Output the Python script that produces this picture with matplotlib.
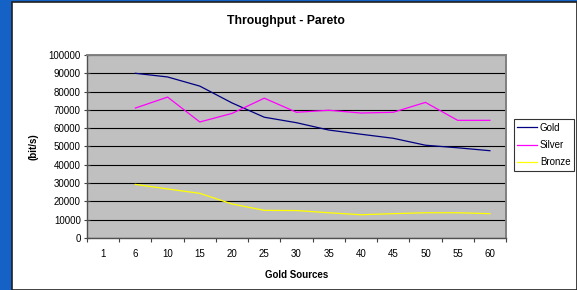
import numpy as np
import matplotlib
matplotlib.use('Agg')
import matplotlib.pyplot as plt
from matplotlib.patches import Rectangle

plt.rcParams['font.family'] = ['Liberation Sans', 'DejaVu Sans']

categories = ['1', '6', '10', '15', '20', '25', '30', '35', '40', '45', '50', '55', '60']
# category "1" has no data
gold = [np.nan, 90000, 88000, 83000, 73800, 66000, 63000, 59000, 56700, 54500, 50700, 49300, 47700]
silver = [np.nan, 71000, 77000, 63400, 68100, 76400, 68700, 69800, 68300, 68700, 74100, 64300, 64300]
bronze = [np.nan, 29300, 26800, 24400, 18600, 15100, 15000, 13800, 12700, 13300, 13800, 13800, 13300]
yticks = np.arange(0, 100001, 10000)

fig = plt.figure(figsize=(5.77, 2.90), dpi=100)
fig.patch.set_facecolor('#1562c6')
# white chart area on top of the blue slide background
fig.patches.append(Rectangle((12/577, 0), 1 - 12/577, 1 - 2/290, transform=fig.transFigure,
                             facecolor='white', edgecolor='#202020', linewidth=1.2, zorder=-5))

ax = fig.add_axes([87/577, 52/290, 419/577, 183/290])
ax.set_zorder(1)
ax.set_facecolor('#c0c0c0')

x = np.arange(len(categories)) + 0.5
ax.plot(x, gold, color='#000080', lw=0.9, label='Gold')
ax.plot(x, silver, color='#ff00ff', lw=0.9, label='Silver')
ax.plot(x, bronze, color='#ffff00', lw=0.9, label='Bronze')

ax.set_xlim(0, len(categories))
ax.set_ylim(0, 100000)
ax.set_yticks(yticks)
ax.set_yticklabels([str(v) for v in yticks], fontsize=7)
ax.yaxis.grid(True, color='black', lw=0.8)
ax.set_axisbelow(True)

ax.set_xticks(np.arange(len(categories) + 1))
ax.set_xticklabels([])
ax.set_xticks(x, minor=True)
ax.set_xticklabels(categories, minor=True, fontsize=7)
ax.tick_params(axis='x', which='major', direction='out', length=3, width=0.8, color='#404040')
ax.tick_params(axis='x', which='minor', length=0, pad=8)
ax.tick_params(axis='y', direction='inout', length=5, width=0.8, color='#404040', pad=2)

for side in ['top', 'right']:
    ax.spines[side].set_color('#808080')
    ax.spines[side].set_linewidth(1.4)
for side in ['left', 'bottom']:
    ax.spines[side].set_color('#505050')
    ax.spines[side].set_linewidth(1.0)

ax.set_title('Throughput - Pareto', fontsize=8.8, fontweight='bold', pad=22, x=(286 - 87) / 419)
ax.set_xlabel('Gold Sources', fontsize=7, fontweight='bold', labelpad=8)
ax.set_ylabel('(bit/s)', fontsize=7, fontweight='bold', labelpad=7)

leg = ax.legend(loc='center left', bbox_to_anchor=(514/577, 145/290), bbox_transform=fig.transFigure,
                fontsize=7, frameon=True, fancybox=False, borderaxespad=0, handlelength=2.0,
                handletextpad=0.3, borderpad=0.35, labelspacing=0.75)
leg.get_frame().set_edgecolor('black')
leg.get_frame().set_linewidth(0.8)

plt.savefig('out.png', dpi=100, facecolor=fig.get_facecolor())
